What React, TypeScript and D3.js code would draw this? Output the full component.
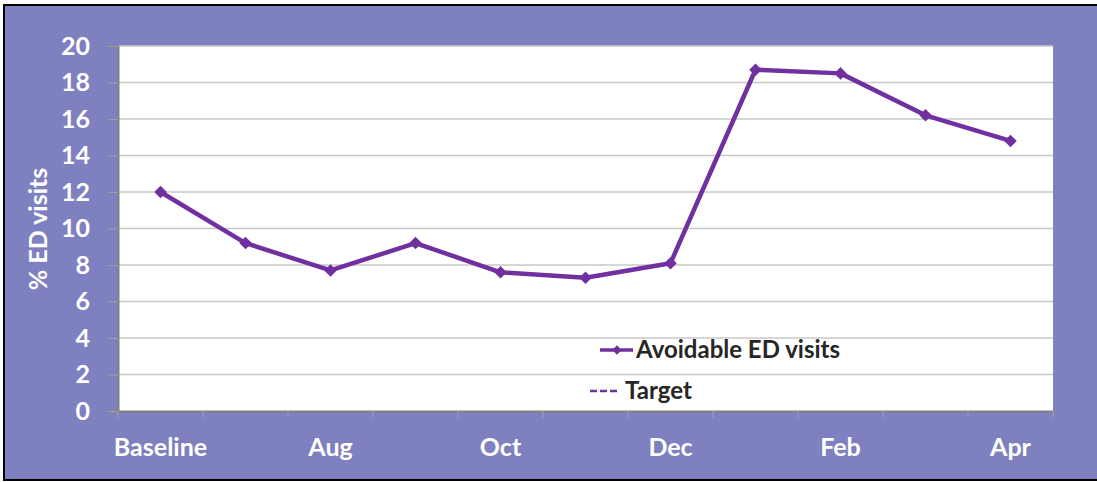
import * as d3 from "d3";
import { useEffect, useRef } from "react";

const months = ["Baseline", "Jul", "Aug", "Sep", "Oct", "Nov", "Dec", "Jan", "Feb", "Mar", "Apr"];
const avoidable = [12.0, 9.2, 7.7, 9.2, 7.6, 7.3, 8.1, 18.7, 18.5, 16.2, 14.8];
const yTicks = [0, 2, 4, 6, 8, 10, 12, 14, 16, 18, 20];

const App = () => {
  const ref = useRef<SVGSVGElement>(null);

  useEffect(() => {
    const svg = d3.select(ref.current);
    svg.selectAll("*").remove();

    const width = 1097;
    const height = 482;
    const font = "Lato, 'Open Sans', sans-serif";
    const purple = "#7030A0";

    svg.attr("width", width).attr("height", height);

    // chart background + frame (right edge runs off the picture)
    svg.append("rect").attr("width", width).attr("height", height).attr("fill", "#ffffff");
    svg
      .append("rect")
      .attr("x", 4)
      .attr("y", 5)
      .attr("width", width + 10)
      .attr("height", 475)
      .attr("fill", "#7F80BF")
      .attr("stroke", "#000")
      .attr("stroke-width", 2);

    const left = 118;
    const right = 1053;
    const top = 46;
    const bottom = 411;

    const x = d3.scaleBand().domain(months).range([left, right]);
    const y = d3.scaleLinear().domain([0, 20]).range([bottom, top]);

    // plot area
    svg
      .append("rect")
      .attr("x", left)
      .attr("y", top)
      .attr("width", right - left)
      .attr("height", bottom - top)
      .attr("fill", "#fff");

    // gridlines
    svg
      .append("g")
      .selectAll("line")
      .data(yTicks.slice(1))
      .join("line")
      .attr("x1", left)
      .attr("x2", right)
      .attr("y1", (d) => y(d))
      .attr("y2", (d) => y(d))
      .attr("stroke", "#c8c8c8")
      .attr("stroke-width", 1.5);

    // y axis
    const yAxis = svg
      .append("g")
      .attr("transform", `translate(${left},0)`)
      .call(d3.axisLeft(y).tickValues(yTicks).tickSize(10).tickPadding(18));
    yAxis.select(".domain").attr("stroke", "#808080").attr("stroke-width", 2);
    yAxis.selectAll(".tick line").attr("stroke", "#a0a0a0");
    yAxis
      .selectAll(".tick text")
      .attr("fill", "#fff")
      .style("font-family", font)
      .style("font-weight", "bold")
      .style("font-size", "25px");

    // x axis
    const xAxis = svg
      .append("g")
      .attr("transform", `translate(0,${bottom})`)
      .call(
        d3
          .axisBottom(x)
          .tickSize(0)
          .tickPadding(27)
          .tickFormat((d, i) => (i % 2 === 0 ? d : ""))
      );
    xAxis.select(".domain").attr("stroke", "#808080").attr("stroke-width", 2);
    xAxis
      .selectAll(".tick text")
      .attr("fill", "#fff")
      .style("font-family", font)
      .style("font-weight", "bold")
      .style("font-size", "25px");

    // band boundary ticks
    svg
      .append("g")
      .selectAll("line")
      .data([...months.map((m) => x(m)!), right])
      .join("line")
      .attr("x1", (d) => d)
      .attr("x2", (d) => d)
      .attr("y1", bottom)
      .attr("y2", bottom + 7)
      .attr("stroke", "#a0a0a0")
      .attr("stroke-width", 1);

    // y title
    svg
      .append("text")
      .attr("transform", `translate(47,229) rotate(-90)`)
      .attr("text-anchor", "middle")
      .attr("fill", "#fff")
      .style("font-family", font)
      .style("font-weight", "bold")
      .style("font-size", "25px")
      .text("% ED visits");

    const cx = (m: string) => x(m)! + x.bandwidth() / 2;
    const pts: [number, number][] = months.map((m, i) => [cx(m), y(avoidable[i])]);

    svg
      .append("path")
      .attr("d", d3.line()(pts))
      .attr("fill", "none")
      .attr("stroke", purple)
      .attr("stroke-width", 4.5)
      .attr("stroke-linejoin", "round");

    const diamond = d3.symbol().type(d3.symbolDiamond2).size(100);
    svg
      .append("g")
      .selectAll("path")
      .data(pts)
      .join("path")
      .attr("d", diamond)
      .attr("transform", (d) => `translate(${d[0]},${d[1]})`)
      .attr("fill", purple);

    // legend
    const lg = svg.append("g");
    lg.append("line")
      .attr("x1", 600)
      .attr("x2", 633)
      .attr("y1", 350)
      .attr("y2", 350)
      .attr("stroke", purple)
      .attr("stroke-width", 3.5);
    lg.append("path")
      .attr("d", d3.symbol().type(d3.symbolDiamond2).size(55)())
      .attr("transform", "translate(617,350)")
      .attr("fill", purple);
    lg.append("text")
      .attr("x", 636)
      .attr("y", 358)
      .attr("fill", "#262626")
      .style("font-family", font)
      .style("font-weight", "bold")
      .style("font-size", "24px")
      .text("Avoidable ED visits");
    lg.append("line")
      .attr("x1", 590)
      .attr("x2", 619)
      .attr("y1", 391)
      .attr("y2", 391)
      .attr("stroke", purple)
      .attr("stroke-width", 2.5)
      .attr("stroke-dasharray", "7,3");
    lg.append("text")
      .attr("x", 625)
      .attr("y", 399)
      .attr("fill", "#262626")
      .style("font-family", font)
      .style("font-weight", "bold")
      .style("font-size", "24px")
      .text("Target");
  }, []);

  return <svg ref={ref} style={{ position: "absolute", left: 0, top: 0 }}></svg>;
};

export default App;
